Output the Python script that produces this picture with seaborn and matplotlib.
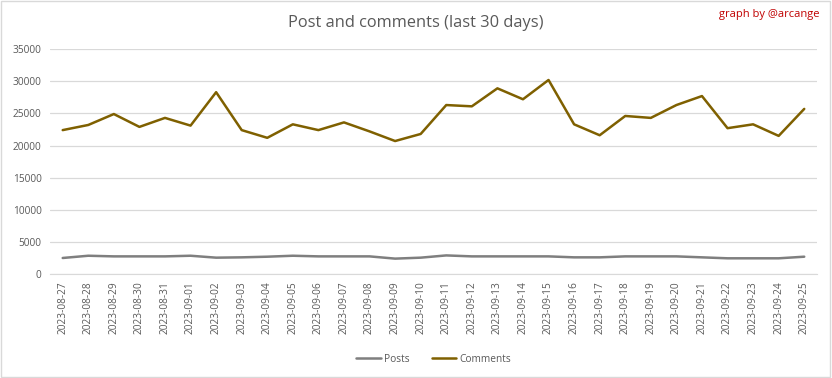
import pandas as pd
import numpy as np
import matplotlib.pyplot as plt
import seaborn as sns

# data
dates = pd.date_range('2023-08-27', '2023-09-25').strftime('%Y-%m-%d').tolist()
posts = [2500, 2850, 2750, 2750, 2750, 2850, 2550, 2600, 2700, 2850,
         2750, 2750, 2750, 2400, 2550, 2900, 2750, 2750, 2750, 2750,
         2600, 2600, 2750, 2750, 2750, 2600, 2450, 2450, 2450, 2700]
comments = [22400, 23200, 24900, 22900, 24300, 23100, 28300, 22400, 21200, 23300,
            22400, 23600, 22200, 20700, 21800, 26300, 26100, 28900, 27200, 30200,
            23300, 21600, 24600, 24300, 26300, 27700, 22700, 23300, 21500, 25700]

df = pd.DataFrame({'date': dates * 2,
                   'value': posts + comments,
                   'series': ['Posts'] * len(dates) + ['Comments'] * len(dates)})

sns.set_style('white')
plt.rcParams['font.family'] = ['Open Sans', 'DejaVu Sans']
text_color = '#595959'

fig = plt.figure(figsize=(8.32, 3.78), dpi=100)
ax = fig.add_axes([0.060, 0.275, 0.922, 0.595])

sns.lineplot(data=df, x='date', y='value', hue='series',
             palette={'Posts': '#7F7F7F', 'Comments': '#7F6000'},
             linewidth=1.8, ax=ax, sort=False)

ax.set_xlim(-0.5, len(dates) - 0.5)
ax.set_ylim(0, 35000)
ax.set_yticks(range(0, 35001, 5000))
ax.yaxis.grid(True, color='#D9D9D9', linewidth=0.9)
ax.set_axisbelow(True)
for s in ['top', 'right', 'left']:
    ax.spines[s].set_visible(False)
ax.spines['bottom'].set_color('#D9D9D9')
ax.tick_params(axis='x', labelrotation=90, labelsize=7.3, colors=text_color, length=0, pad=5)
ax.tick_params(axis='y', labelsize=7.3, colors=text_color, length=0, pad=6)
ax.set_xlabel('')
ax.set_ylabel('')

ax.legend(handles=ax.get_legend_handles_labels()[0], labels=['Posts', 'Comments'],
          loc='lower center', bbox_to_anchor=(0.5, -0.445), ncol=2, frameon=False,
          fontsize=7.3, labelcolor=text_color, handlelength=2.4, handletextpad=0.3,
          columnspacing=2.2)

fig.text(0.5, 0.94, 'Post and comments (last 30 days)', ha='center', va='center',
         fontsize=11.8, color=text_color)
fig.text(0.985, 0.962, 'graph by @arcange', ha='right', va='center',
         fontsize=8, color='#C00000')

fig.patches.append(plt.Rectangle((0.001, 0.002), 0.997, 0.995, transform=fig.transFigure,
                                 fill=False, edgecolor='#D9D9D9', linewidth=1))

fig.savefig('out.png', dpi=100)
